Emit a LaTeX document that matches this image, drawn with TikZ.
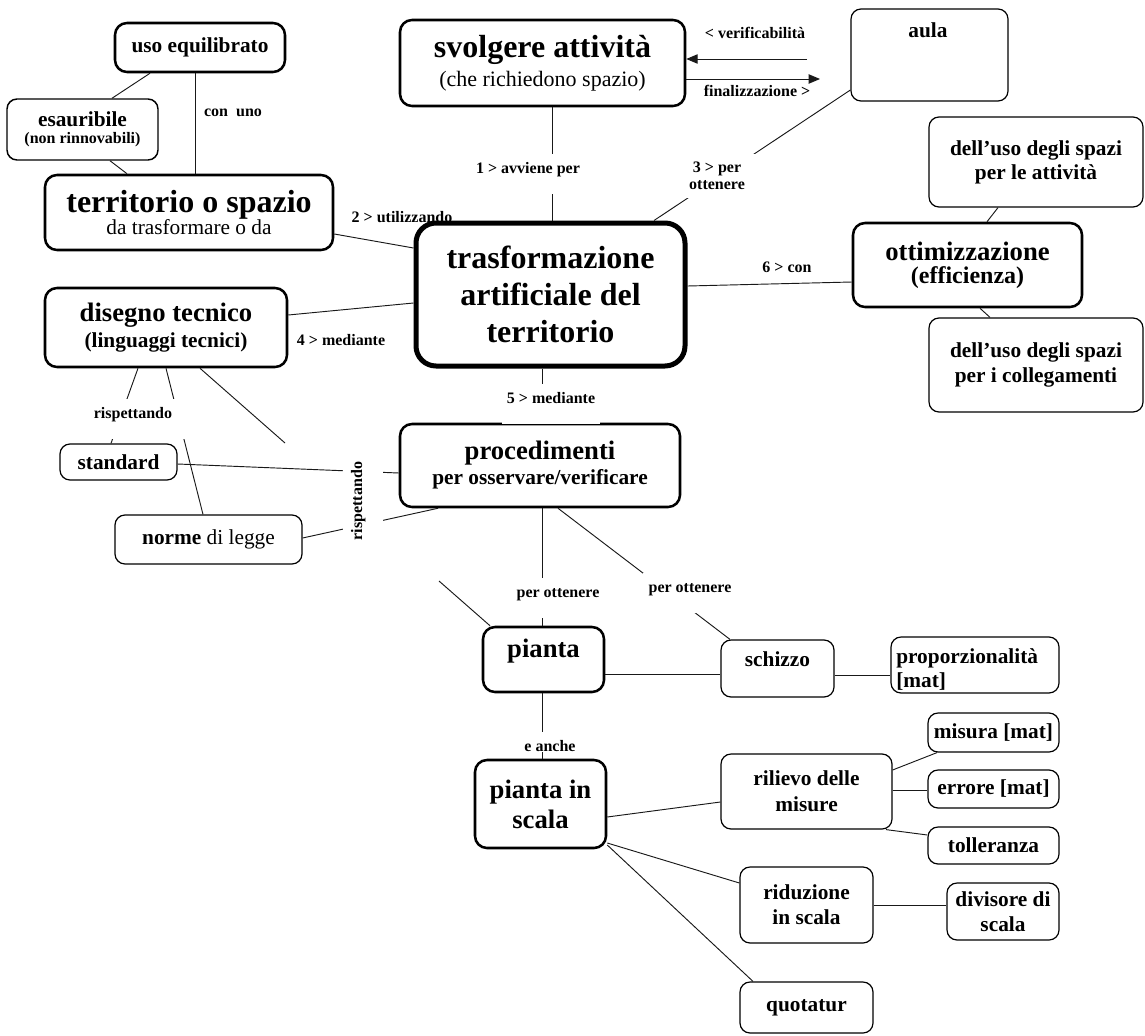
\documentclass[tikz,border=0pt]{standalone}
\usepackage{fontspec}
\setmainfont{Liberation Serif}
\usetikzlibrary{arrows.meta}
\newcommand\fsz[2]{\fontsize{#1}{#2}\selectfont}
\AtBeginDocument{\lineskiplimit=-100pt\lineskip=0pt}
\begin{document}
\begin{tikzpicture}[x=0.75pt,y=-0.75pt,
  box/.style={draw=black, rounded corners=7.5pt, line width=0.9pt, inner sep=0pt, align=center},
  tbox/.style={box, line width=1.9pt, rounded corners=9pt},
  wh/.style 2 args={minimum width=#1*0.75pt, minimum height=#2*0.75pt},
  conn/.style={line width=0.7pt, draw=black!90},
  tip/.style={-{Triangle[length=8.5pt,width=7pt]}},
  lbl/.style={font=\bfseries\fsz{12}{12.75}, inner sep=0pt, align=center},
  gap/.style={lbl, fill=white, text height=14pt, text depth=15.5pt, inner xsep=4pt},
  txt/.style={inner sep=0pt, align=center}
]
\fill[white] (0,0) rectangle (1145,1035);
\useasboundingbox (0,0) rectangle (1145,1035);

% ---------- boxes ----------
\node[tbox, wh={170}{49}, font=\bfseries\fsz{16}{19}] (ue) at (200,47.5) {uso equilibrato};
\node[box, line width=1.1pt, wh={151}{61}, font=\bfseries\fsz{16}{13}] (es) at (82.5,129.5)
  {esauribile\\{\fsz{12}{13}(non rinnovabili)}};
\node[tbox, wh={288}{75}, font=\bfseries\fsz{24}{17}] (ter) at (189,212.5)
  {territorio o spazio\\{\mdseries\fsz{16}{17}da trasformare o da}};
\node[tbox, wh={285}{86}, font=\bfseries\fsz{24}{21.75}] (sv) at (542.5,63)
  {svolgere attività\\{\mdseries\fsz{16.5}{21.75}(che richiedono spazio)}};
\node[box, wh={157}{92}] (aula) at (929.5,55) {};
\node[txt, anchor=base, font=\bfseries\fsz{16}{19}] (aulat) at (928,37) {aula};
\node[tbox, line width=3.75pt, rounded corners=15pt, wh={269}{143}, font=\bfseries\fsz{24}{27.75}] (tr) at (550.5,294.5)
  {trasformazione\\artificiale del\\territorio};
\node[tbox, wh={229}{84}, font=\bfseries\fsz{20}{17}] (ot) at (967.5,265)
  {ottimizzazione\\{\fsz{18}{17}(efficienza)}};
\node[box, wh={214}{90}, font=\bfseries\fsz{16}{18}] (da) at (1036,162)
  {dell’uso degli spazi\\per le attività};
\node[box, wh={214}{94}, font=\bfseries\fsz{16}{18.5}] (dc) at (1036,365)
  {dell’uso degli spazi\\per i collegamenti};
\node[tbox, wh={242}{79}, font=\bfseries\fsz{20}{19.2}] (dt) at (166,327.5)
  {disegno tecnico\\{\fsz{16}{19}(linguaggi tecnici)}};
\node[tbox, wh={280}{83}, font=\bfseries\fsz{20}{18.75}] (pr) at (540,465.5)
  {procedimenti\\{\fsz{16}{18}per osservare/verificare}};
\node[box, wh={117}{36}, font=\bfseries\fsz{16}{19}] (st) at (118.5,462) {standard};
\node[box, wh={187}{49}, font=\fsz{16}{19}] (no) at (208.5,539.5) {\textbf{norme} di legge};
\node[tbox, wh={121}{65}] (pi) at (543.5,659.5) {};
\node[txt, anchor=base, font=\bfseries\fsz{20}{22}] (pit) at (543.5,657) {pianta};
\node[box, wh={113}{57}] (sc) at (777.5,668.5) {};
\node[txt, anchor=base, font=\bfseries\fsz{16}{19}] (sct) at (777.5,666) {schizzo};
\node[box, wh={168}{56}] (pm) at (975,665) {};
\node[inner sep=0pt, align=left, anchor=west, font=\bfseries\fsz{16}{18}] (pmt) at (896,669.5)
  {proporzionalità\\{[mat]}};
\node[tbox, wh={131}{88}, font=\bfseries\fsz{20}{22.5}] (ps) at (540.5,804) {pianta in\\scala};
\node[box, wh={171}{75}, font=\bfseries\fsz{16}{19.5}] (ri) at (806.5,791.5) {rilievo delle\\misure};
\node[box, wh={131}{39}, font=\bfseries\fsz{16}{19}] (mi) at (993.5,732.5) {misura [mat]};
\node[box, wh={131}{38}, font=\bfseries\fsz{16}{19}] (er) at (993.5,789) {errore [mat]};
\node[box, wh={131}{37}, font=\bfseries\fsz{16}{19}] (to) at (993.5,845.5) {tolleranza};
\node[box, wh={133}{76}, font=\bfseries\fsz{16}{18.75}] (rd) at (806.5,905) {riduzione\\in scala};
\node[box, wh={112}{57}, font=\bfseries\fsz{16}{18.75}] (dv) at (1003,911.5) {divisore di\\scala};
\node[box, wh={133}{51}, font=\bfseries\fsz{16}{19}] (qu) at (806.5,1007.5) {quotatur};

% ---------- free ends ----------
\coordinate (va) at (807,59);
\coordinate (fa) at (820,79);
\coordinate (dd) at (285,443);
\coordinate (pd) at (439,581);

% ---------- connectors ----------
\draw[conn] (ue.south -| 195,0) -- (ter.north -| 195,0);
\draw[conn] (ue.south -| 150,0) -- (es.north -| 112,0);
\draw[conn] (es.south -| 110,0) -- (ter.north -| 127,0);
\draw[conn] (ter.east |- 0,234) -- (tr.west |- 0,248);
\draw[conn] (sv.south -| 552,0) -- (tr.north -| 552,0);
\draw[conn, tip] (va) -- (sv.east |- va);
\draw[conn, tip] (sv.east |- fa) -- (fa);
\draw[conn] (aula.west |- 0,90) -- (tr.north -| 654,0);
\draw[conn] (tr.east |- 0,286) -- (ot.west |- 0,282);
\draw[conn] (da.south -| 998,0) -- (ot.north -| 987,0);
\draw[conn] (ot.south -| 980,0) -- (dc.north -| 990,0);
\draw[conn] (dt.east |- 0,315) -- (tr.west |- 0,303);
\draw[conn] (dt.south -| 138,0) -- (st.north -| 111,0);
\draw[conn] (dt.south -| 166,0) -- (no.north -| 203,0);
\draw[conn] (dt.south -| 200,0) -- (dd);
\draw[conn] (tr.south -| 542,0) -- (pr.north -| 542,0);
\draw[conn] (st.east |- 0,464) -- (pr.west |- 0,473);
\draw[conn] (no.east |- 0,538) -- (pr.south -| 438,0);
\draw[conn] (pr.south -| 542,0) -- (pi.north -| 542,0);
\draw[conn] (pr.south -| 558,0) -- (sc.north -| 730,0);
\draw[conn] (pd) -- (pi.north -| 490,0);
\draw[conn] (pi.east |- 0,674) -- (sc.west |- 0,674);
\draw[conn] (sc.east |- 0,675) -- (pm.west |- 0,675);
\draw[conn] (pi.south -| 542,0) -- (ps.north -| 542,0);
\draw[conn] (ps.east |- 0,817) -- (ri.west |- 0,802);
\draw[conn] (ri.east |- 0,770) -- (mi.south -| 937,0);
\draw[conn] (ri.east |- 0,790) -- (er.west |- 0,790);
\draw[conn] (ri.south -| 886,0) -- (to.west |- 0,835);
\draw[conn] (ps.east |- 0,843) -- (rd.west |- 0,883);
\draw[conn] (ps.east |- 0,845) -- (qu.north -| 753,0);
\draw[conn] (rd.east |- 0,905) -- (dv.west |- 0,905);

% ---------- linking phrases ----------
\node[gap, anchor=base] (l1) at (528,173) {1 > avviene per};
\node[lbl] (l2) at (402,217) {2 > utilizzando};
\node[lbl, fill=white, inner xsep=10pt, minimum height=33pt] (l3) at (717,176) {3 > per\\ottenere};
\node[lbl] (l4) at (341,340) {4 > mediante};
\node[gap, anchor=base] (l5) at (551,403) {5 > mediante};
\node[lbl] (l6) at (787,267) {6 > con};
\node[lbl] (lver) at (755,33) {< verificabilità};
\node[lbl] (lfin) at (757,91) {finalizzazione >};
\node[lbl] (lcon) at (233,113) {con\ \ uno};
\node[gap, anchor=base, inner xsep=10.5pt] (lr1) at (133,418) {rispettando};
\node[gap, anchor=base, rotate=90] (lr2) at (362,501) {rispettando};
\node[gap, anchor=base] (lpo1) at (558,597) {per ottenere};
\node[gap, anchor=base] (lpo2) at (690,592) {per ottenere};
\node[lbl, fill=white, text height=14pt, text depth=0.5pt, anchor=base] (lea) at (550,751) {e anche};
\end{tikzpicture}
\end{document}
